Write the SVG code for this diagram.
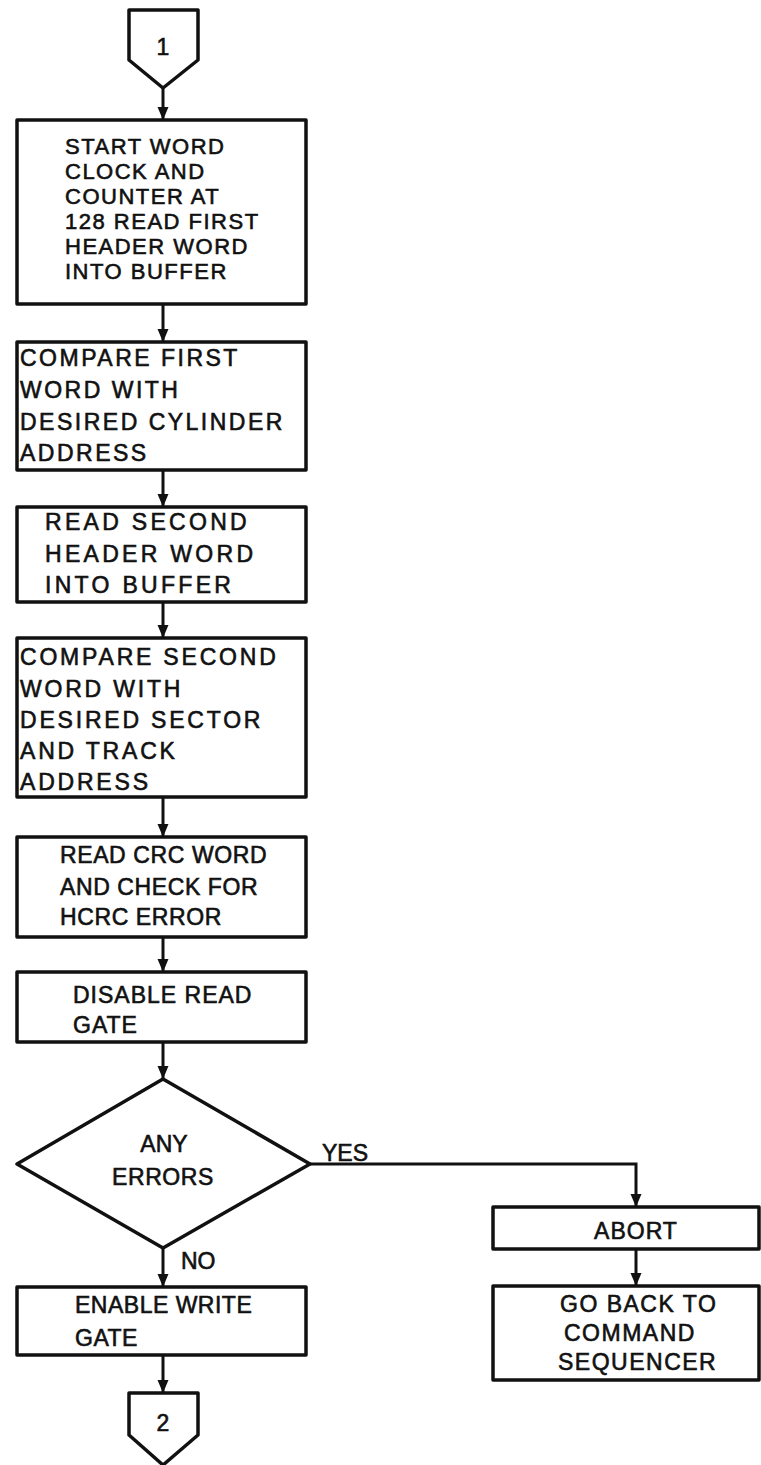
<svg xmlns="http://www.w3.org/2000/svg" width="761" height="1465" viewBox="0 0 761 1465">
<style>
.b{fill:#fff;stroke:#111;stroke-width:3.5;stroke-linejoin:round}
.t{font-family:"Liberation Sans",Arial,sans-serif;font-size:23px;fill:#111;stroke:#111;stroke-width:0.6}
.c{fill:none;stroke:#111;stroke-width:3}
</style>
<defs>
<marker id="ah" markerUnits="userSpaceOnUse" markerWidth="14" markerHeight="12" refX="13" refY="5.5" orient="auto">
<path d="M0,0 L13,5.5 L0,11 z" fill="#111"/>
</marker>
</defs>
<rect width="761" height="1465" fill="#fff"/>
<g id="connectors">
<path class="c" d="M163,88 V120" marker-end="url(#ah)"/>
<path class="c" d="M163,304 V342" marker-end="url(#ah)"/>
<path class="c" d="M163,470 V507" marker-end="url(#ah)"/>
<path class="c" d="M163,602 V638" marker-end="url(#ah)"/>
<path class="c" d="M163,797 V837" marker-end="url(#ah)"/>
<path class="c" d="M163,937 V972" marker-end="url(#ah)"/>
<path class="c" d="M163,1042 V1079" marker-end="url(#ah)"/>
<path class="c" d="M163,1248 V1287" marker-end="url(#ah)"/>
<path class="c" d="M163,1355 V1393" marker-end="url(#ah)"/>
<path class="c" d="M310,1164 H636 V1207" marker-end="url(#ah)"/>
<path class="c" d="M636,1249 V1286" marker-end="url(#ah)"/>
<text class="t" x="322" y="1161">YES</text>
<text class="t" x="181" y="1269">NO</text>
</g>
<g id="n1">
<polygon class="b" points="129,10 198,10 198,60 163,88 129,60"/>
<text class="t" x="163" y="55" text-anchor="middle">1</text>
</g>
<g id="n2">
<rect class="b" x="17" y="120" width="289" height="184"/>
<text class="t" style="font-size:22px;letter-spacing:1.5px" x="65"><tspan x="65" y="154">START WORD</tspan><tspan x="65" y="179">CLOCK AND</tspan><tspan x="65" y="204">COUNTER AT</tspan><tspan x="65" y="229">128 READ FIRST</tspan><tspan x="65" y="254">HEADER WORD</tspan><tspan x="65" y="279">INTO BUFFER</tspan></text>
</g>
<g id="n3">
<rect class="b" x="17" y="342" width="289" height="128"/>
<text class="t" style="letter-spacing:2.5px"><tspan x="20" y="366">COMPARE FIRST</tspan><tspan x="20" y="398">WORD WITH</tspan><tspan x="20" y="430">DESIRED CYLINDER</tspan><tspan x="20" y="461">ADDRESS</tspan></text>
</g>
<g id="n4">
<rect class="b" x="17" y="507" width="289" height="95"/>
<text class="t" style="letter-spacing:3.3px"><tspan x="45" y="530">READ SECOND</tspan><tspan x="45" y="562">HEADER WORD</tspan><tspan x="45" y="593">INTO BUFFER</tspan></text>
</g>
<g id="n5">
<rect class="b" x="17" y="638" width="289" height="159"/>
<text class="t" style="letter-spacing:2.8px"><tspan x="20" y="665">COMPARE SECOND</tspan><tspan x="20" y="697">WORD WITH</tspan><tspan x="20" y="728">DESIRED SECTOR</tspan><tspan x="20" y="759">AND TRACK</tspan><tspan x="20" y="790">ADDRESS</tspan></text>
</g>
<g id="n6">
<rect class="b" x="17" y="837" width="289" height="100"/>
<text class="t" style="letter-spacing:0.6px"><tspan x="60" y="863">READ CRC WORD</tspan><tspan x="60" y="895">AND CHECK FOR</tspan><tspan x="60" y="925">HCRC ERROR</tspan></text>
</g>
<g id="n7">
<rect class="b" x="17" y="972" width="289" height="70"/>
<text class="t" style="letter-spacing:1px"><tspan x="73" y="1003">DISABLE READ</tspan><tspan x="73" y="1033">GATE</tspan></text>
</g>
<g id="n8">
<polygon class="b" points="163,1079 310,1164 163,1248 17,1164"/>
<text class="t" text-anchor="middle"><tspan x="164" y="1152">ANY</tspan><tspan x="163" y="1185" style="letter-spacing:0.6px">ERRORS</tspan></text>
</g>
<g id="n9">
<rect class="b" x="17" y="1287" width="289" height="68"/>
<text class="t" style="letter-spacing:0.5px"><tspan x="75" y="1313">ENABLE WRITE</tspan><tspan x="75" y="1346">GATE</tspan></text>
</g>
<g id="n10">
<polygon class="b" points="129,1393 198,1393 198,1435 163,1465 129,1435"/>
<text class="t" x="163" y="1431" text-anchor="middle">2</text>
</g>
<g id="n11">
<rect class="b" x="493" y="1207" width="266" height="42"/>
<text class="t" x="636" y="1239" text-anchor="middle" style="letter-spacing:1px">ABORT</text>
</g>
<g id="n12">
<rect class="b" x="493" y="1286" width="266" height="94"/>
<text class="t" style="letter-spacing:1.5px"><tspan x="560" y="1312">GO BACK TO</tspan><tspan x="564" y="1341">COMMAND</tspan><tspan x="558" y="1370">SEQUENCER</tspan></text>
</g>
</svg>
